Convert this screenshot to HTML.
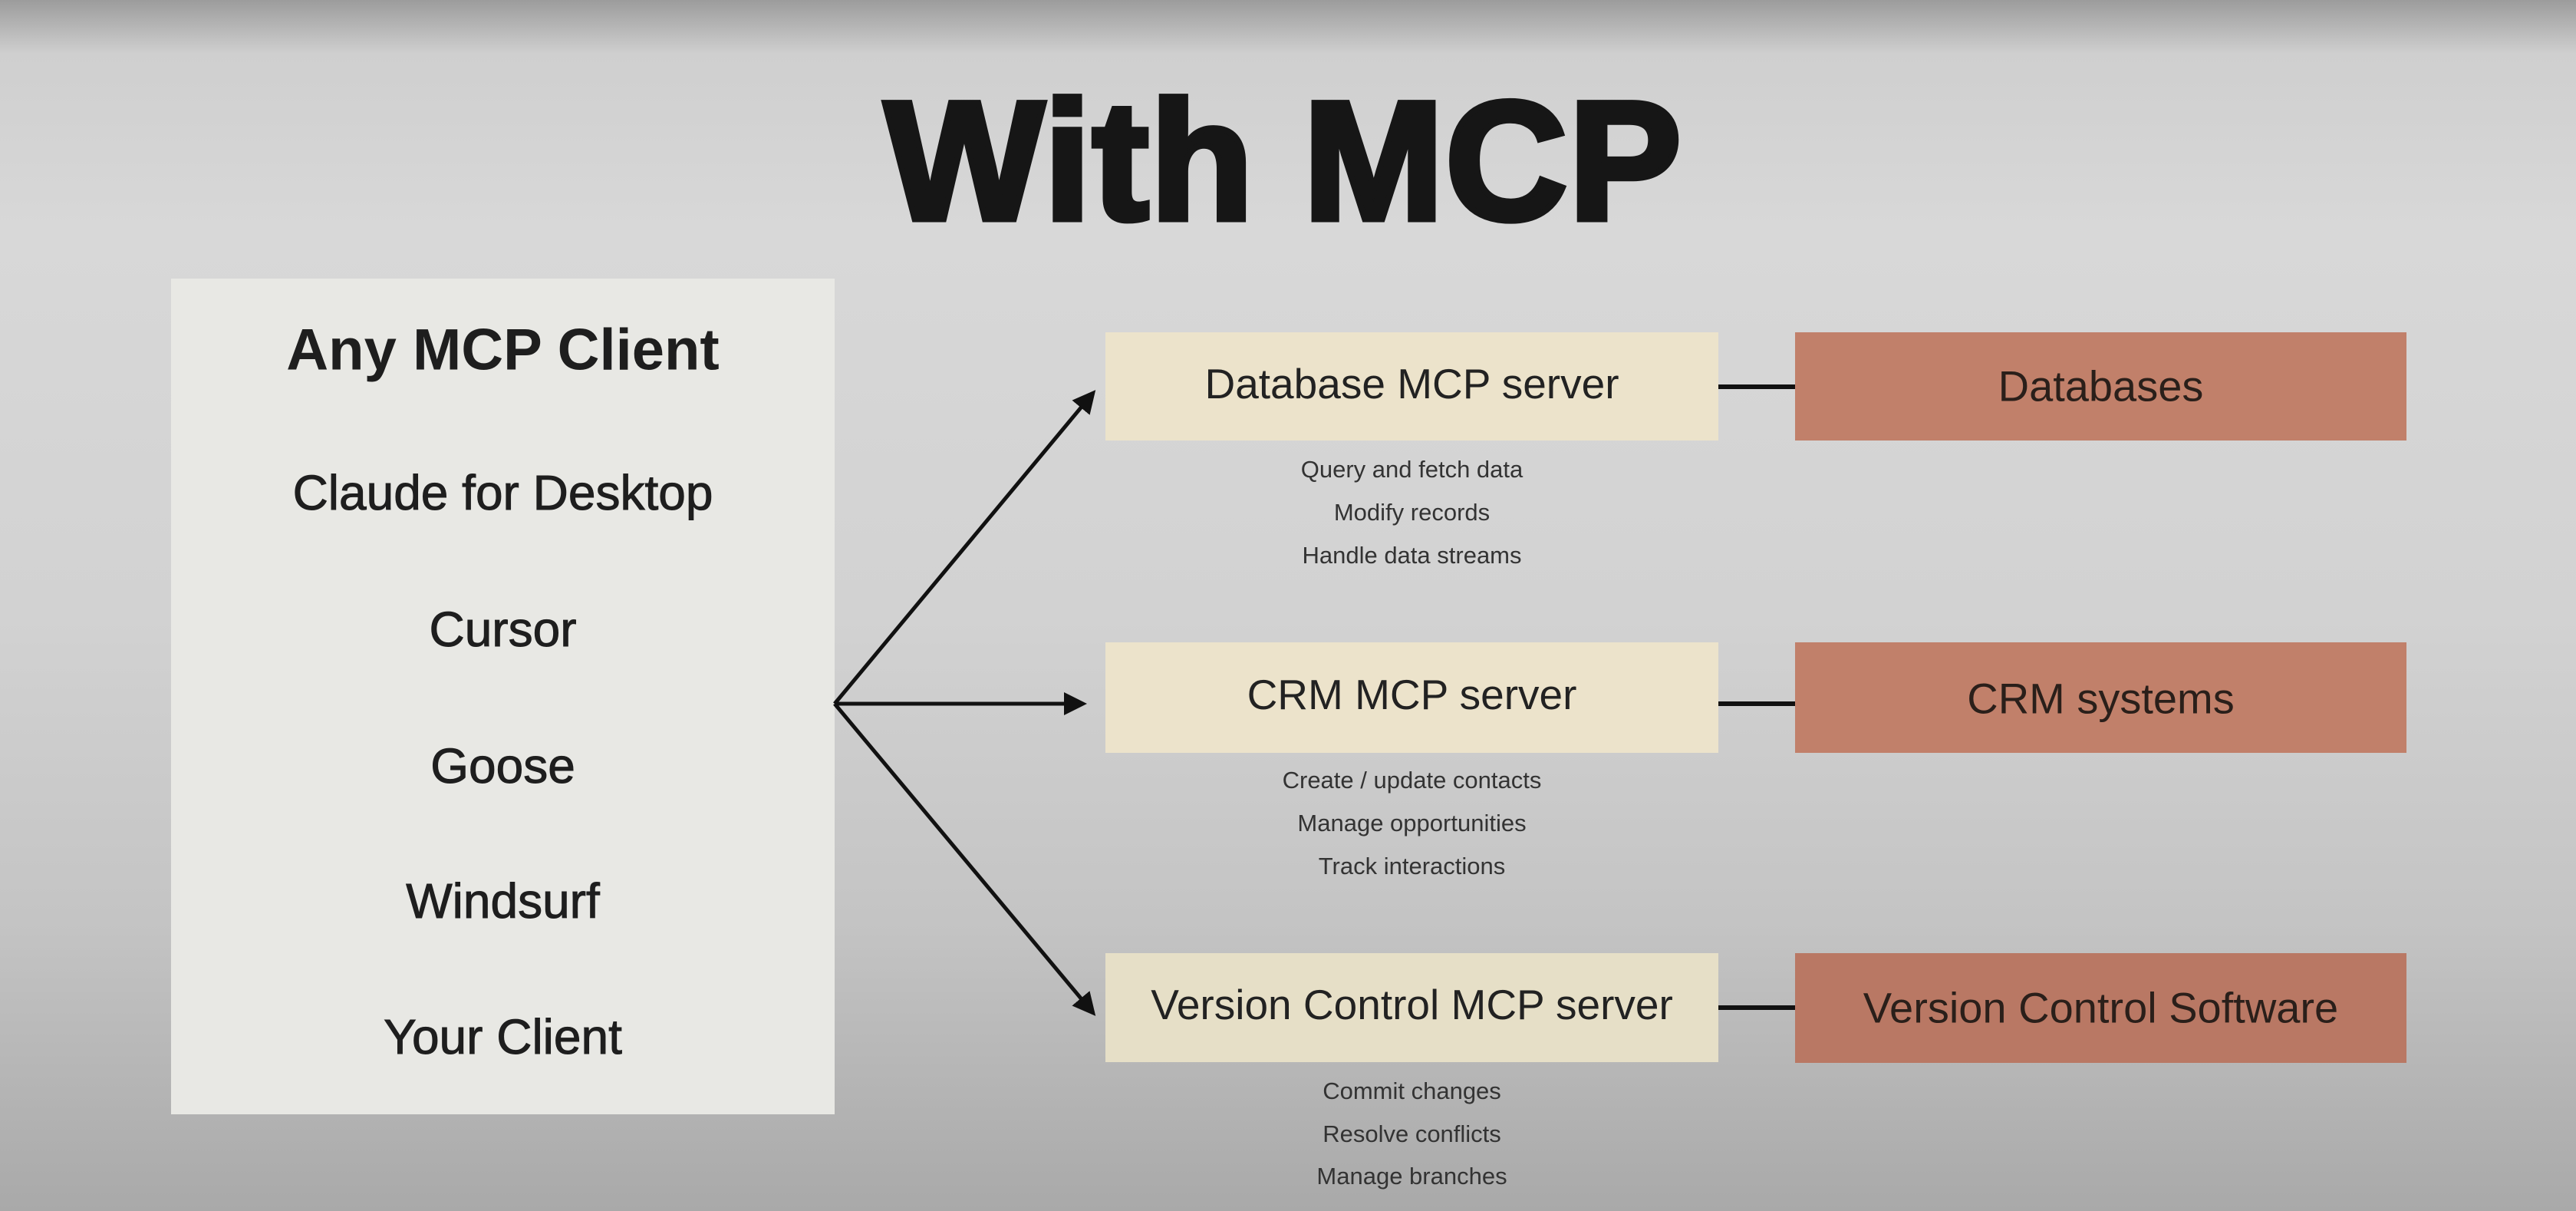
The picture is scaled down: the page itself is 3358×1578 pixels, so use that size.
<!DOCTYPE html>
<html><head><meta charset="utf-8"><style>
*{margin:0;padding:0;box-sizing:border-box}
body{width:3358px;height:1578px;overflow:hidden;position:relative;font-family:"Liberation Sans",sans-serif;
background:linear-gradient(180deg,#9c9c9c 0px,#cfcfcf 70px,#d8d8d8 300px,#d2d2d2 800px,#c4c4c4 1200px,#a9a9a9 1578px);}
.box{position:absolute}
.c{position:absolute;text-align:center;white-space:nowrap;color:#222;transform:translateY(-50%)}
</style></head><body>
<div class="c" style="left:1141px;width:1065px;top:210px;font-size:220px;font-weight:bold;color:#161616;-webkit-text-stroke:8px #161616;letter-spacing:2px">With MCP</div>

<div class="box" style="left:223px;top:363px;width:865px;height:1089px;background:#e8e8e4"></div>
<div class="c" style="left:223px;width:865px;top:456px;font-size:76px;font-weight:bold;color:#1e1e1e">Any MCP Client</div>
<div class="c" style="left:223px;width:865px;top:642px;font-size:64px;color:#1e1e1e;-webkit-text-stroke:1px #1e1e1e">Claude for Desktop</div>
<div class="c" style="left:223px;width:865px;top:820px;font-size:64px;color:#1e1e1e;-webkit-text-stroke:1px #1e1e1e">Cursor</div>
<div class="c" style="left:223px;width:865px;top:998px;font-size:64px;color:#1e1e1e;-webkit-text-stroke:1px #1e1e1e">Goose</div>
<div class="c" style="left:223px;width:865px;top:1174px;font-size:64px;color:#1e1e1e;-webkit-text-stroke:1px #1e1e1e">Windsurf</div>
<div class="c" style="left:223px;width:865px;top:1351px;font-size:64px;color:#1e1e1e;-webkit-text-stroke:1px #1e1e1e">Your Client</div>

<svg style="position:absolute;left:0;top:0" width="3358" height="1578">
<defs><marker id="a" markerWidth="6" markerHeight="6" refX="5" refY="3" orient="auto" markerUnits="strokeWidth"><path d="M0,0 L6,3 L0,6 Z" fill="#111"/></marker></defs>
<g stroke="#111" stroke-width="5" fill="none">
<line x1="1088" y1="917" x2="1425" y2="512" marker-end="url(#a)"/>
<line x1="1088" y1="917" x2="1412" y2="917" marker-end="url(#a)"/>
<line x1="1088" y1="917" x2="1425" y2="1320" marker-end="url(#a)"/>
<line x1="2240" y1="504" x2="2340" y2="504" stroke-width="6"/>
<line x1="2240" y1="917" x2="2340" y2="917" stroke-width="6"/>
<line x1="2240" y1="1313" x2="2340" y2="1313" stroke-width="6"/>
</g></svg>

<div class="box" style="left:1441px;top:433px;width:799px;height:141px;background:#ece3cb"></div>
<div class="box" style="left:1441px;top:837px;width:799px;height:144px;background:#ece3cb"></div>
<div class="box" style="left:1441px;top:1242px;width:799px;height:142px;background:#e6dfc7"></div>
<div class="box" style="left:2340px;top:433px;width:797px;height:141px;background:#c1806a"></div>
<div class="box" style="left:2340px;top:837px;width:797px;height:144px;background:#c1806a"></div>
<div class="box" style="left:2340px;top:1242px;width:797px;height:143px;background:#b97864"></div>

<div class="c" style="left:1441px;width:799px;top:500px;font-size:55px">Database MCP server</div>
<div class="c" style="left:1441px;width:799px;top:905px;font-size:55px">CRM MCP server</div>
<div class="c" style="left:1441px;width:799px;top:1309px;font-size:55px">Version Control MCP server</div>
<div class="c" style="left:2340px;width:797px;top:503px;font-size:56px;color:#2a1f1a">Databases</div>
<div class="c" style="left:2340px;width:797px;top:910px;font-size:56px;color:#2a1f1a">CRM systems</div>
<div class="c" style="left:2340px;width:797px;top:1313px;font-size:56px;color:#2a1f1a">Version Control Software</div>

<div class="c" style="left:1441px;width:799px;top:612px;font-size:31px;color:#333">Query and fetch data</div>
<div class="c" style="left:1441px;width:799px;top:668px;font-size:31px;color:#333">Modify records</div>
<div class="c" style="left:1441px;width:799px;top:724px;font-size:31px;color:#333">Handle data streams</div>
<div class="c" style="left:1441px;width:799px;top:1017px;font-size:31px;color:#333">Create / update contacts</div>
<div class="c" style="left:1441px;width:799px;top:1073px;font-size:31px;color:#333">Manage opportunities</div>
<div class="c" style="left:1441px;width:799px;top:1129px;font-size:31px;color:#333">Track interactions</div>
<div class="c" style="left:1441px;width:799px;top:1422px;font-size:31px;color:#333">Commit changes</div>
<div class="c" style="left:1441px;width:799px;top:1478px;font-size:31px;color:#333">Resolve conflicts</div>
<div class="c" style="left:1441px;width:799px;top:1533px;font-size:31px;color:#333">Manage branches</div>
</body></html>
